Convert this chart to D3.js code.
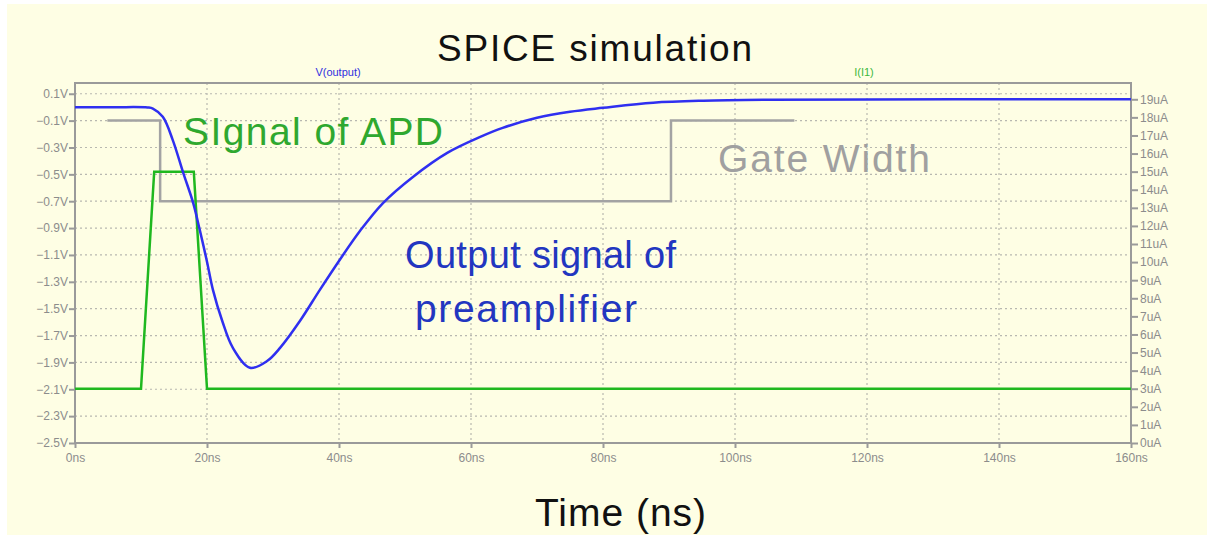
<!DOCTYPE html>
<html>
<head>
<meta charset="utf-8">
<script src="https://cdn.jsdelivr.net/npm/d3@7"></script>
<style>
  html, body { margin: 0; padding: 0; background: #ffffff; }
  svg { display: block; font-family: "Liberation Sans", Arial, Helvetica, sans-serif; }
</style>
</head>
<body>
<script>
// V(output), time in ns, voltage in V
const voutTime = [0, 6, 11, 11.8, 13.3, 14.8, 16.4, 17.9, 18.9, 20.0, 20.9, 22.3, 23.9, 26.5, 29.1, 31.1, 34.1, 37.1, 40.2, 43.2, 46.7, 51.2, 56.4, 61.4, 64.8, 70.0, 75.0, 80.0, 87.6, 95.2, 105.3, 120, 140, 160];
const voutVolt = [0, 0, -0.002, -0.01, -0.072, -0.243, -0.489, -0.712, -0.913, -1.15, -1.36, -1.59, -1.79, -1.94, -1.89, -1.79, -1.59, -1.36, -1.13, -0.92, -0.712, -0.519, -0.34, -0.221, -0.154, -0.079, -0.034, -0.005, 0.033, 0.048, 0.055, 0.058, 0.059, 0.059];

// I(I1), time in ns, current in uA
const iTime = [0, 10, 12, 18, 20, 160];
const iAmp = [3, 3, 15, 15, 3, 3];

// gate width marker, time in ns, level in V
const gateTime = [4.9, 12.9, 12.9, 90.3, 90.3, 109];
const gateVolt = [-0.1, -0.1, -0.7, -0.7, -0.1, -0.1];

const xTicks = [0, 20, 40, 60, 80, 100, 120, 140, 160];
const vTicks = [0.1, -0.1, -0.3, -0.5, -0.7, -0.9, -1.1, -1.3, -1.5, -1.7, -1.9, -2.1, -2.3, -2.5];
const iTicks = d3.range(0, 20);

const W = 1214, H = 539;
const plot = { left: 75, right: 1131, top: 83, bottom: 443 };

const svg = d3.select('body').append('svg')
  .attr('width', W)
  .attr('height', H);

// background panel
svg.append('rect')
  .attr('x', 7).attr('y', 4)
  .attr('width', 1200).attr('height', 531)
  .attr('fill', '#fefee4');

const x = d3.scaleLinear().domain([0, 160]).range([plot.left, plot.right]);
const yV = d3.scaleLinear().domain([-2.5, 0.18]).range([plot.bottom, plot.top]);
const yI = d3.scaleLinear().domain([0, 19.9]).range([plot.bottom, plot.top]);

const axisColor = '#9a9a9a';
const labelColor = '#8c8c8c';

// grid
svg.append('g')
  .selectAll('line')
  .data(vTicks.filter(v => v > -2.5))
  .join('line')
  .attr('x1', plot.left).attr('x2', plot.right)
  .attr('y1', d => yV(d)).attr('y2', d => yV(d))
  .attr('stroke', '#b8b8b0')
  .attr('stroke-width', 1.2)
  .attr('stroke-dasharray', '2,3');

svg.append('g')
  .selectAll('line')
  .data(xTicks.filter(t => t > 0 && t < 160))
  .join('line')
  .attr('x1', d => x(d)).attr('x2', d => x(d))
  .attr('y1', plot.top).attr('y2', plot.bottom)
  .attr('stroke', '#b8b8b0')
  .attr('stroke-width', 1.2)
  .attr('stroke-dasharray', '2,3');

// frame
svg.append('rect')
  .attr('x', plot.left).attr('y', plot.top)
  .attr('width', plot.right - plot.left)
  .attr('height', plot.bottom - plot.top)
  .attr('fill', 'none')
  .attr('stroke', axisColor)
  .attr('stroke-width', 2);

// axes
function styleAxis(g) {
  g.select('.domain').remove();
  g.selectAll('.tick line').attr('stroke', axisColor).attr('stroke-width', 2);
  g.selectAll('.tick text')
    .attr('fill', labelColor)
    .style('font-size', '12px')
    .style('font-family', '"Liberation Sans", Arial, sans-serif');
}

svg.append('g')
  .attr('transform', `translate(0,${plot.bottom})`)
  .call(d3.axisBottom(x).tickValues(xTicks).tickFormat(d => `${d}ns`).tickSize(5).tickPadding(5))
  .call(styleAxis);

svg.append('g')
  .attr('transform', `translate(${plot.left},0)`)
  .call(d3.axisLeft(yV).tickValues(vTicks).tickFormat(d => `${d3.format('.1f')(d)}V`).tickSize(6).tickPadding(1))
  .call(styleAxis);

svg.append('g')
  .attr('transform', `translate(${plot.right},0)`)
  .call(d3.axisRight(yI).tickValues(iTicks).tickFormat(d => `${d}uA`).tickSize(7).tickPadding(2))
  .call(styleAxis);

// traces
const gateLine = d3.line().x(d => x(d[0])).y(d => yV(d[1]));
svg.append('path')
  .datum(gateTime.map((t, i) => [t, gateVolt[i]]))
  .attr('d', gateLine)
  .attr('fill', 'none')
  .attr('stroke', '#a3a3a3')
  .attr('stroke-width', 2.5);

const iLine = d3.line().x(d => x(d[0])).y(d => yI(d[1]));
svg.append('path')
  .datum(iTime.map((t, i) => [t, iAmp[i]]))
  .attr('d', iLine)
  .attr('fill', 'none')
  .attr('stroke', '#1fb81f')
  .attr('stroke-width', 2.5);

const vLine = d3.line().x(d => x(d[0])).y(d => yV(d[1])).curve(d3.curveCatmullRom.alpha(0.5));
svg.append('path')
  .datum(voutTime.map((t, i) => [t, voutVolt[i]]))
  .attr('d', vLine)
  .attr('fill', 'none')
  .attr('stroke', '#2f2ff0')
  .attr('stroke-width', 2.5);

// trace names
svg.append('text')
  .attr('x', 338).attr('y', 76)
  .attr('text-anchor', 'middle')
  .attr('fill', '#2f2fe0')
  .style('font-size', '11px')
  .text('V(output)');

svg.append('text')
  .attr('x', 864).attr('y', 76)
  .attr('text-anchor', 'middle')
  .attr('fill', '#3cb83c')
  .style('font-size', '11px')
  .text('I(I1)');

// big labels: x, baseline, width, size
function bigText(txt, x0, y0, len, size, color) {
  svg.append('text')
    .attr('x', x0).attr('y', y0)
    .attr('fill', color)
    .attr('textLength', len)
    .attr('lengthAdjust', 'spacing')
    .style('font-size', `${size}px`)
    .text(txt);
}

bigText('SPICE simulation', 437, 61, 315, 37, '#111');
bigText('Time (ns)', 535, 526, 171, 39, '#111');
bigText('SIgnal of APD', 183, 145, 260, 39, '#2fa82f');
bigText('Gate Width', 718, 172, 212, 39, '#a0a0a0');
bigText('Output signal of', 405, 268, 271, 38, '#2236c0');
bigText('preamplifier', 415, 322, 222, 39, '#2236c0');
</script>
</body>
</html>
